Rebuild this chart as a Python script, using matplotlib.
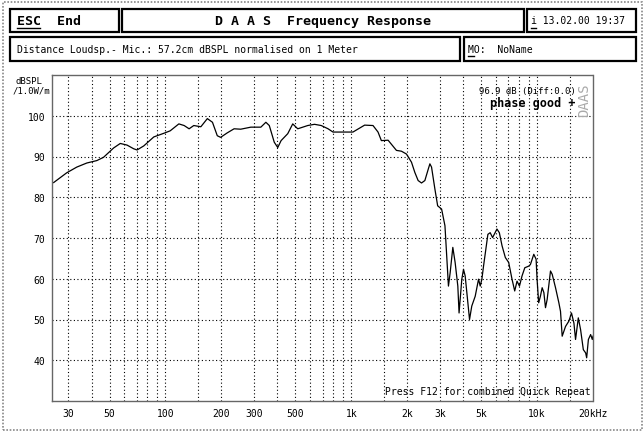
import matplotlib
matplotlib.use("Agg")
import matplotlib.pyplot as plt
from matplotlib.patches import Rectangle
from matplotlib.lines import Line2D

W, H = 644, 435

# frequency response
freq = [25, 29.4, 33.3, 37.7, 42.7, 46.4, 52.6, 57.1, 62.1, 67.4, 70.3, 76.4,
        86.5, 98, 106, 118, 126, 134, 142, 155, 168, 179, 190, 198, 215, 234,
        254, 288, 326, 347, 362, 385, 402, 419, 455, 484, 515, 583, 634, 689,
        750, 797, 1021, 1180, 1309, 1393, 1452, 1578, 1750, 1862, 1982, 2109,
        2198, 2290, 2388, 2489, 2596, 2649, 2704, 2819, 2917, 3063, 3193, 3263,
        3334, 3406, 3520, 3622, 3745, 3803, 3935, 4018, 4102, 4188, 4330, 4452,
        4645, 4842, 4943, 5045, 5150, 5436, 5593, 5762, 6082, 6265, 6478, 6750,
        7034, 7330, 7580, 7800, 8040, 8300, 8590, 9020, 9210, 9600, 9880, 10000,
        10200, 10420, 10650, 10880, 11100, 11330, 11810, 12060, 12570, 13100,
        13370, 13650, 14230, 14830, 15320, 15790, 16110, 16670, 17150, 17740,
        18260, 18490, 18890, 19420, 19830, 20000]
spl = [83.6, 86.0, 87.4, 88.4, 89.0, 89.8, 92.1, 93.2, 92.8, 91.9, 91.6, 92.6,
       94.8, 95.7, 96.3, 98.0, 97.6, 96.8, 97.6, 97.3, 99.3, 98.4, 95.1, 94.7,
       95.8, 96.8, 96.7, 97.2, 97.2, 98.4, 97.6, 93.5, 92.2, 93.9, 95.6, 98.0,
       96.8, 97.6, 97.9, 97.6, 96.8, 96.0, 96.0, 97.7, 97.6, 96.0, 93.9, 94.0,
       91.5, 91.3, 90.6, 88.6, 86.1, 84.1, 83.5, 84.1, 86.9, 88.2, 87.4, 82.0,
       77.9, 77.1, 73.0, 65.6, 58.2, 61.5, 67.7, 64.0, 58.2, 51.6, 59.9, 62.3,
       60.7, 56.6, 50.0, 53.3, 55.7, 59.9, 58.2, 59.9, 63.1, 70.9, 71.3, 70.1,
       72.2, 71.3, 68.1, 65.2, 64.0, 59.9, 57.0, 59.4, 58.2, 60.7, 62.7, 63.1,
       63.5, 66.0, 64.8, 59.9, 54.1, 55.7, 57.8, 56.6, 52.9, 54.9, 61.9, 61.1,
       57.8, 54.1, 52.0, 45.9, 48.3, 49.6, 51.6, 49.1, 45.1, 50.4, 47.5, 42.6,
       41.8, 40.6, 45.1, 46.3, 45.1, 45.9]

xticks = [30, 50, 100, 200, 300, 500, 1000, 2000, 3000, 5000, 10000, 20000]
xlabels = ["30", "50", "100", "200", "300", "500", "1k", "2k", "3k", "5k", "10k", "20kHz"]
xgrid = [30, 40, 50, 60, 70, 80, 90, 100, 150, 200, 300, 400, 500, 600, 700,
         800, 900, 1000, 1500, 2000, 3000, 4000, 5000, 6000, 7000, 8000, 9000,
         10000, 15000]
yticks = [40, 50, 60, 70, 80, 90, 100]

mono = "DejaVu Sans Mono"


def fx(x):
    return x / W


def fy(y):
    return 1 - y / H


fig = plt.figure(figsize=(W / 100, H / 100), dpi=100)
fig.patch.set_facecolor("white")

# outer grey frame
fig.add_artist(Rectangle((fx(2.5), fy(431)), fx(639), 428.5 / H, transform=fig.transFigure,
                         fill=False, edgecolor="#888888", lw=1.2, linestyle=(0, (1, 1))))


def box(x0, y0, x1, y1):
    fig.add_artist(Rectangle((fx(x0), fy(y1)), fx(x1 - x0), (y1 - y0) / H,
                             transform=fig.transFigure, fill=False,
                             edgecolor="black", lw=1.6))


def uline(x0, x1, y):
    fig.add_artist(Line2D([fx(x0), fx(x1)], [fy(y), fy(y)], transform=fig.transFigure,
                          color="black", lw=1.0))


box(10, 10, 119, 33)
box(122, 10, 524, 33)
box(527, 10, 636, 33)
box(10, 38, 460, 62)
box(464, 38, 636, 62)

fig.text(fx(17), fy(21.5), "ESC  End", fontsize=9.5, fontweight="bold", family=mono,
         va="center", ha="left")
uline(17, 40, 29)
fig.text(fx(323), fy(21.5), "D A A S  Frequency Response", fontsize=9.5, fontweight="bold",
         family=mono, va="center", ha="center")
fig.text(fx(531), fy(21.5), "i 13.02.00 19:37", fontsize=7, family=mono,
         va="center", ha="left")
uline(531, 536, 29)
fig.text(fx(17), fy(50), "Distance Loudsp.- Mic.: 57.2cm dBSPL normalised on 1 Meter",
         fontsize=7, family=mono, va="center", ha="left")
fig.text(fx(468), fy(50), "MO:  NoName", fontsize=7, family=mono, va="center", ha="left")
uline(468, 474, 57)

# y axis unit
fig.text(fx(29), fy(82), "dBSPL", fontsize=6.5, family=mono, va="center", ha="center")
fig.text(fx(31), fy(91), "/1.0W/m", fontsize=6.5, family=mono, va="center", ha="center")

ax = fig.add_axes([fx(52), fy(402), fx(593 - 52), (402 - 76) / H])
ax.semilogx(freq, spl, color="black", lw=0.9)
ax.set_xlim(24.5, 20000)
ax.set_ylim(30, 110)

for g in xgrid:
    ax.axvline(g, color="black", lw=0.8, linestyle=(0, (1, 2.2)), zorder=0)
for g in yticks:
    ax.axhline(g, color="black", lw=0.8, linestyle=(0, (1, 2.2)), zorder=0)

ax.set_xticks(xticks)
ax.set_xticklabels(xlabels, family=mono, fontsize=7)
ax.xaxis.set_minor_locator(matplotlib.ticker.NullLocator())
ax.set_yticks(yticks)
ax.set_yticklabels([str(v) for v in yticks], family=mono, fontsize=7)
ax.tick_params(length=0, pad=5)
for s in ax.spines.values():
    s.set_color("#666666")
    s.set_linewidth(1.0)
    s.set_linestyle((0, (1, 1)))

ax.text(0.968, 0.952, "96.9 dB (Diff:0.0)", transform=ax.transAxes, fontsize=6.5,
        family=mono, ha="right", va="center")
ax.text(0.968, 0.915, "phase good +", transform=ax.transAxes, fontsize=8.5,
        fontweight="bold", family=mono, ha="right", va="center")
ax.text(0.984, 0.925, "DAAS", transform=ax.transAxes, fontsize=10, rotation=90,
        family=mono, color="#aaaaaa", ha="center", va="center")
ax.text(0.996, 0.016, "Press F12 for combined Quick Repeat", transform=ax.transAxes,
        fontsize=7, family=mono, ha="right", va="bottom")

fig.savefig("out.png", dpi=100)
